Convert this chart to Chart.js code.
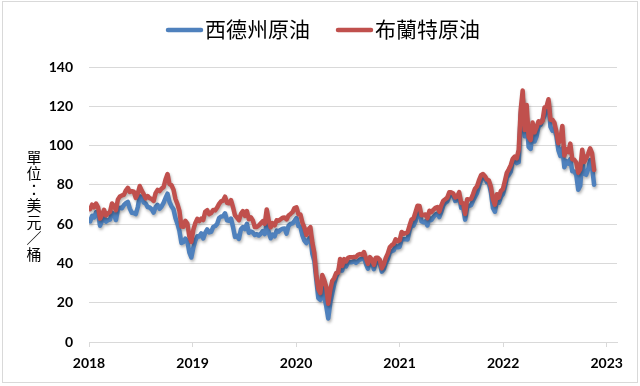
<!DOCTYPE html>
<html>
<head>
<meta charset="utf-8">
<script src="https://cdn.jsdelivr.net/npm/chart.js@4.4.1/dist/chart.umd.min.js"></script>
<style>
  html, body { margin: 0; padding: 0; background: #fff; }
  #wrap { position: relative; width: 640px; height: 386px; }
</style>
</head>
<body>
<div id="wrap"><canvas id="oil" width="640" height="386"></canvas></div>
<script>
// weekly closes (Fridays), first point 2018-01-05, last 2022-11-18
const startYear = 2018;
const firstDay = 4;
const stepDays = 7;

const seriesNames = ["西德州原油", "布蘭特原油"];
const seriesColors = ["#4f81bd", "#c0504d"];
const yearTicks = [2018, 2019, 2020, 2021, 2022, 2023];
const yTitle = "單位：美元／桶";

const wti = [
  61.4, 64.3, 63.4, 66.1, 65.5, 59.2, 61.7, 63.5, 61.3, 62.0, 62.3, 65.9, 64.9,
  62.1, 67.4, 68.4, 68.1, 69.7, 70.7, 71.3, 67.9, 65.8, 65.7, 65.1, 68.6, 74.2,
  73.8, 71.0, 70.5, 68.7, 68.5, 67.6, 65.9, 68.7, 69.8, 67.8, 69.0, 70.8, 73.3,
  75.5, 71.3, 69.1, 67.6, 63.1, 60.2, 56.5, 50.4, 50.9, 52.6, 51.2, 45.6, 43.0,
  // 2019
  48.0, 51.6, 53.8, 53.7, 55.3, 52.7, 55.6, 57.3, 55.8, 56.1, 58.5, 59.0, 60.1,
  63.1, 63.9, 64.0, 65.5, 61.9, 61.7, 62.8, 58.6, 53.5, 54.0, 52.5, 57.4, 58.5,
  57.5, 60.2, 55.6, 56.2, 55.7, 54.5, 54.9, 54.2, 55.1, 56.5, 54.9, 60.5, 55.9,
  52.8, 54.7, 53.8, 56.7, 56.2, 57.2, 57.7, 57.8, 55.2, 59.2, 60.1, 60.4, 61.7,
  // 2020
  63.1, 59.0, 58.5, 54.2, 51.6, 50.3, 52.1, 53.4, 44.8, 41.3, 31.7, 22.4, 21.5,
  28.3, 22.8, 18.3, 12.0, 19.8, 24.7, 29.4, 33.3, 35.5, 39.6, 36.3, 39.8, 38.5,
  40.7, 40.6, 40.6, 41.3, 40.3, 41.2, 42.0, 42.3, 43.0, 39.8, 37.3, 41.1, 40.3,
  37.1, 40.6, 40.9, 39.9, 35.8, 37.1, 40.1, 42.2, 45.5, 46.3, 46.6, 49.1, 48.2, 48.5,
  // 2021
  52.2, 52.4, 52.3, 52.2, 56.9, 59.5, 59.2, 61.5, 66.1, 65.6, 61.4, 61.0,
  61.5, 59.3, 63.1, 62.1, 63.6, 64.9, 65.4, 63.6, 66.3, 69.6, 70.9, 71.6, 74.1,
  75.2, 74.6, 71.8, 72.1, 74.0, 68.3, 68.4, 62.3, 68.7, 69.3, 69.7, 72.0, 74.0,
  75.9, 79.4, 82.3, 83.8, 83.6, 81.3, 80.8, 76.1, 68.2, 66.3, 71.7, 70.9, 73.8, 75.2,
  // 2022
  78.9, 83.8, 85.1, 86.8, 92.3, 93.1, 91.1, 91.6, 115.7, 123.7, 104.7, 113.9,
  99.3, 98.3, 107.0, 102.1, 104.7, 109.8, 110.5, 113.2, 115.1, 118.9, 122.1, 109.6, 107.6,
  108.4, 104.8, 97.6, 94.7, 98.6, 89.0, 92.1, 90.8, 93.1, 86.9, 86.8, 85.1, 77.5, 79.5,
  92.6, 85.6, 85.1, 87.9, 92.6, 89.0, 80.1
];

const brent = [
  67.6, 69.9, 68.6, 70.5, 68.6, 62.8, 64.8, 67.3, 64.4, 65.5, 66.2, 70.5, 69.3,
  67.1, 72.6, 74.1, 74.6, 74.9, 77.1, 78.5, 76.4, 76.8, 76.5, 73.4, 75.6, 79.4,
  77.1, 75.3, 73.1, 74.3, 73.2, 72.8, 71.8, 75.8, 77.4, 76.8, 78.1, 78.8, 82.7,
  85.5, 80.4, 79.8, 77.6, 72.8, 70.2, 66.8, 58.8, 58.7, 61.7, 60.3, 53.8, 51.0,
  // 2019
  57.1, 60.5, 62.7, 61.6, 62.8, 62.1, 66.3, 67.1, 65.1, 65.7, 67.2, 67.0, 68.4,
  70.3, 71.6, 72.0, 74.0, 70.9, 70.6, 72.2, 68.7, 64.5, 63.3, 62.0, 65.2, 66.6,
  64.2, 66.7, 62.5, 63.5, 61.9, 58.5, 58.6, 59.3, 60.4, 61.5, 60.2, 67.5, 61.9,
  58.4, 60.5, 59.4, 62.0, 61.7, 62.5, 63.3, 63.4, 62.4, 64.4, 65.2, 66.1, 68.2,
  // 2020
  68.6, 65.0, 64.9, 60.7, 58.2, 54.5, 57.3, 58.5, 50.5, 45.3, 33.9, 27.0, 24.9,
  34.1, 31.5, 28.1, 19.5, 26.4, 31.0, 32.5, 35.1, 35.3, 42.3, 38.7, 42.2, 41.0,
  42.8, 43.2, 43.1, 43.3, 43.3, 44.4, 44.8, 44.4, 45.8, 42.7, 39.8, 43.2, 41.9,
  39.3, 42.9, 42.9, 41.8, 37.5, 39.5, 42.8, 45.0, 48.2, 49.3, 50.0, 52.3, 51.3, 51.8,
  // 2021
  56.0, 55.1, 55.4, 55.9, 59.3, 62.4, 62.9, 66.1, 69.4, 69.2, 64.5, 64.6,
  64.9, 63.0, 66.8, 66.1, 67.3, 68.3, 68.7, 66.4, 69.6, 71.9, 72.7, 73.5, 76.2,
  76.2, 75.6, 73.6, 74.1, 76.3, 70.7, 70.6, 65.2, 72.7, 72.6, 72.9, 75.3, 78.1,
  79.3, 82.4, 84.9, 85.5, 84.4, 82.7, 82.2, 78.9, 72.7, 69.9, 75.2, 73.5, 76.9, 77.8,
  // 2022
  81.8, 86.1, 87.9, 90.0, 93.3, 94.4, 93.5, 97.9, 118.1, 128.0, 107.9, 120.7,
  104.4, 102.8, 111.7, 106.7, 109.3, 112.4, 111.6, 112.6, 119.4, 119.7, 123.6, 113.1, 113.1,
  111.6, 107.0, 101.2, 103.2, 110.0, 94.9, 98.2, 96.7, 101.0, 93.0, 92.8, 91.4, 86.2, 88.0,
  97.9, 91.6, 93.5, 95.8, 98.6, 96.0, 87.6
];

function toPoints(values) {
  return values.map((v, i) => ({ x: startYear + (firstDay + stepDays * i) / 365.25, y: v }));
}

const tickFont = { family: "Lato, 'Liberation Sans', sans-serif", size: 14, weight: "bold" };

// soft drop shadow under the lines, like the office chart
const lineShadow = {
  id: "lineShadow",
  beforeDatasetDraw(chart) {
    const c = chart.ctx;
    c.save();
    c.shadowColor = "rgba(0,0,0,0.3)";
    c.shadowBlur = 3;
    c.shadowOffsetX = 1;
    c.shadowOffsetY = 2;
  },
  afterDatasetDraw(chart) {
    chart.ctx.restore();
  }
};

// frame, legend at top, upright vertical axis title
const decor = {
  id: "decor",
  afterDraw(chart) {
    const c = chart.ctx;
    c.save();
    c.strokeStyle = "#d9d9d9";
    c.lineWidth = 1;
    c.strokeRect(2.5, 1.5, 635, 381);

    const legendX = [166, 336];
    c.font = "21px 'Noto Sans CJK TC', sans-serif";
    c.textBaseline = "middle";
    c.textAlign = "left";
    chart.data.datasets.forEach((ds, i) => {
      const x = legendX[i];
      c.strokeStyle = ds.borderColor;
      c.lineWidth = 4.5;
      c.lineCap = "round";
      c.beginPath();
      c.moveTo(x + 2, 30);
      c.lineTo(x + 35, 30);
      c.stroke();
      c.fillStyle = "#000";
      c.fillText(ds.label, x + 39, 29);
    });

    c.font = "15px 'Noto Sans CJK TC', sans-serif";
    c.textAlign = "center";
    Array.from(yTitle).forEach((ch, i) => {
      c.fillText(ch, 34, 157 + i * 16.2);
    });
    c.restore();
  }
};

new Chart(document.getElementById("oil"), {
  type: "line",
  data: {
    datasets: [
      { label: seriesNames[0], data: toPoints(wti), borderColor: seriesColors[0], order: 1 },
      { label: seriesNames[1], data: toPoints(brent), borderColor: seriesColors[1], order: 0 }
    ]
  },
  options: {
    responsive: false,
    animation: false,
    layout: { padding: { top: 67, right: 23, bottom: 0, left: 0 } },
    elements: {
      point: { radius: 0 },
      line: { borderWidth: 4.5, tension: 0, borderCapStyle: "round", borderJoinStyle: "round", fill: false }
    },
    plugins: { legend: { display: false }, tooltip: { enabled: false } },
    scales: {
      x: {
        type: "linear",
        min: 2018,
        max: 2023.1,
        afterBuildTicks: s => { s.ticks = yearTicks.map(v => ({ value: v })); },
        afterFit: s => { s.height = 44; },
        ticks: { callback: v => String(v), font: tickFont, color: "#000", padding: 8, maxRotation: 0 },
        grid: { drawOnChartArea: false, drawTicks: true, tickLength: 5, color: "#d9d9d9" },
        border: { color: "#d9d9d9" }
      },
      y: {
        min: 0,
        max: 140,
        afterFit: s => { s.width = 89; },
        ticks: { stepSize: 20, font: tickFont, color: "#000", padding: 16 },
        grid: { color: "#d9d9d9", drawTicks: false },
        border: { display: false }
      }
    }
  },
  plugins: [lineShadow, decor]
});
</script>
</body>
</html>
